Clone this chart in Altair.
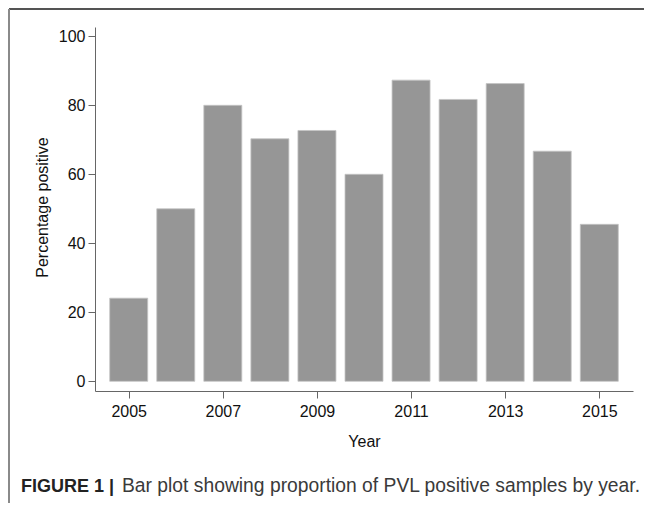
import altair as alt
import pandas as pd

years = [2005, 2006, 2007, 2008, 2009, 2010, 2011, 2012, 2013, 2014, 2015]
percent_positive = [24.1, 50.0, 80.0, 70.3, 72.7, 60.0, 87.3, 81.7, 86.3, 66.7, 45.5]
x_tick_values = [2005, 2007, 2009, 2011, 2013, 2015]
y_tick_values = [0, 20, 40, 60, 80, 100]
caption_bold = "FIGURE 1 |"
caption_text = "Bar plot showing proportion of PVL positive samples by year."

df = pd.DataFrame({"Year": years, "Percent": percent_positive})

FONT = "Liberation Sans"
W, H = 538, 364

bars = alt.Chart(df).mark_bar(
    size=38, color="#969696", stroke="#c4c4c4", strokeWidth=0.8
).encode(
    x=alt.X(
        "Year:Q",
        scale=alt.Scale(domain=[2004.39, 2015.61], nice=False, zero=False),
        axis=alt.Axis(
            values=x_tick_values, format="d", title="Year",
            titleY=50, titleBaseline="middle", labelPadding=5,
        ),
    ),
    y=alt.Y(
        "Percent:Q",
        scale=alt.Scale(domain=[-2.81, 102.7], nice=False, zero=False),
        axis=alt.Axis(
            values=y_tick_values, title="Percentage positive",
            titleX=-53, titleY=180, titleAngle=-90,
            titleAlign="center", titleBaseline="middle", labelPadding=3,
        ),
    ),
    y2=alt.datum(0),
)

frame_top = alt.Chart(df).mark_rule(color="#555555", strokeWidth=1.6).encode(
    x=alt.value(-86), x2=alt.value(W + 12), y=alt.value(-18)
)
frame_left = alt.Chart(df).mark_rule(color="#8a8a8a", strokeWidth=2).encode(
    x=alt.value(-86), y=alt.value(-18), y2=alt.value(H + 140)
)

cap_df = pd.DataFrame({"bold": [caption_bold], "text": [caption_text]})
cap1 = alt.Chart(cap_df).mark_text(
    font=FONT, fontSize=18, fontWeight="bold", color="#222222",
    align="left", baseline="alphabetic",
).encode(text="bold:N", x=alt.value(-74), y=alt.value(465))
cap2 = alt.Chart(cap_df).mark_text(
    font=FONT, fontSize=19.3, color="#3a3a3a",
    align="left", baseline="alphabetic",
).encode(text="text:N", x=alt.value(27), y=alt.value(465))

chart = alt.layer(frame_top, frame_left, bars, cap1, cap2).properties(
    width=W, height=H,
    autosize=alt.AutoSizeParams(type="none"),
    padding={"left": 87, "top": 19, "right": 11, "bottom": 112},
).configure_view(stroke=None).configure_axis(
    labelFont=FONT, titleFont=FONT, labelFontSize=16, titleFontSize=16,
    titleFontWeight="normal", labelColor="#111111", titleColor="#111111",
    domainColor="#666666", tickColor="#666666", tickSize=7,
    grid=False, domainWidth=1, tickWidth=1,
)

chart.save("out.html", embed_options={"renderer": "svg", "actions": False})
